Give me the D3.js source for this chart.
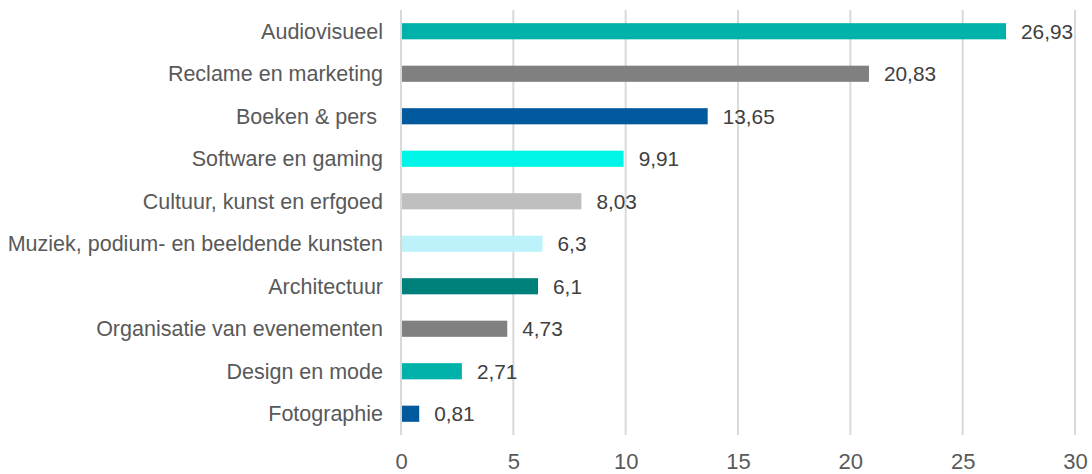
<!DOCTYPE html>
<html lang="nl">
	<head>
		<meta charset="utf-8">
		<title>Creatieve sectoren</title>
		<script src="https://d3js.org/d3.v7.min.js"></script>
		<style type="text/css">
			body { margin: 0; background: #fff; }
			text { font-family: "Liberation Sans", Arial, sans-serif; }
		</style>
	</head>
	<body>
		<script type="text/javascript">

			//Width and height
			var w = 1092;
			var h = 474;

			var categories = ["Audiovisueel", "Reclame en marketing", "Boeken & pers ", "Software en gaming",
				"Cultuur, kunst en erfgoed", "Muziek, podium- en beeldende kunsten", "Architectuur",
				"Organisatie van evenementen", "Design en mode", "Fotographie"];
			var values = [26.93, 20.83, 13.65, 9.91, 8.03, 6.3, 6.1, 4.73, 2.71, 0.81];
			var colors = ["#00b2a9", "#808080", "#00589d", "#00f5e8", "#bfbfbf",
				"#bdf2fb", "#00807a", "#808080", "#00b2a9", "#00589d"];
			var ticks = [0, 5, 10, 15, 20, 25, 30];

			var x = d3.scaleLinear().domain([0, 30]).range([401, 1075]);
			var y = d3.scaleBand().domain(categories).range([10, 435]).paddingInner(0.62).paddingOuter(0.31);

			var svg = d3.select("body")
						.append("svg")
						.attr("width", w)
						.attr("height", h);

			//gridlines
			svg.selectAll("line.grid")
			   .data(ticks)
			   .enter()
			   .append("line")
			   .attr("class", "grid")
			   .attr("x1", function(d) { return x(d); })
			   .attr("x2", function(d) { return x(d); })
			   .attr("y1", 10)
			   .attr("y2", 435)
			   .attr("stroke", "#d9d9d9")
			   .attr("stroke-width", 2);

			//bars
			svg.selectAll("rect")
			   .data(values)
			   .enter()
			   .append("rect")
			   .attr("x", x(0) + 1)
			   .attr("y", function(d, i) { return y(categories[i]); })
			   .attr("width", function(d) { return x(d) - x(0) - 1; })
			   .attr("height", y.bandwidth())
			   .attr("fill", function(d, i) { return colors[i]; });

			//value labels
			svg.selectAll("text.val")
			   .data(values)
			   .enter()
			   .append("text")
			   .attr("class", "val")
			   .attr("x", function(d) { return x(d) + 15; })
			   .attr("y", function(d, i) { return y(categories[i]) + y.bandwidth() / 2; })
			   .attr("dy", "0.36em")
			   .attr("font-size", 20.8)
			   .attr("fill", "#404040")
			   .text(function(d) { return String(d).replace(".", ","); });

			//category labels
			svg.selectAll("text.cat")
			   .data(categories)
			   .enter()
			   .append("text")
			   .attr("class", "cat")
			   .attr("x", 383)
			   .attr("y", function(d) { return y(d) + y.bandwidth() / 2; })
			   .attr("dy", "0.36em")
			   .attr("text-anchor", "end")
			   .attr("font-size", 21.5)
			   .attr("fill", "#595959")
			   .style("white-space", "pre")
			   .text(function(d) { return d; });

			//x axis
			var xAxis = d3.axisBottom(x).tickValues(ticks).tickSize(0).tickPadding(0);
			var ax = svg.append("g")
			   .attr("transform", "translate(0,0)")
			   .call(xAxis);
			ax.select(".domain").remove();
			ax.selectAll("text")
			  .attr("y", 469)
			  .attr("dy", null)
			  .attr("font-size", 22)
			  .attr("fill", "#595959")
			  .attr("font-family", "Liberation Sans, Arial, sans-serif");
		</script>
	</body>
</html>
